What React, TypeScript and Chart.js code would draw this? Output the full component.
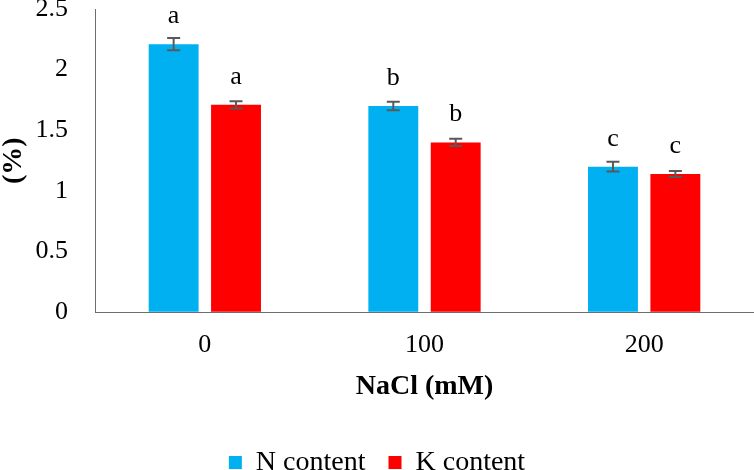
import React, { useEffect, useRef } from 'react';
import Chart from 'chart.js/auto';

const categories = ['0', '100', '200'];
const nContent = [2.21, 1.7, 1.2];
const kContent = [1.71, 1.4, 1.14];
const nError = [0.05, 0.035, 0.04];
const kError = [0.03, 0.03, 0.025];
const nLetters = ['a', 'b', 'c'];
const kLetters = ['a', 'b', 'c'];

const FONT = '"Liberation Serif", "Times New Roman", serif';

const errorBarPlugin = {
  id: 'errorBars',
  afterDatasetsDraw(chart: any) {
    const { ctx } = chart;
    const y = chart.scales.y;
    const errs = [nError, kError];
    const letters = [nLetters, kLetters];
    ctx.save();
    chart.data.datasets.forEach((ds: any, di: number) => {
      const meta = chart.getDatasetMeta(di);
      meta.data.forEach((bar: any, i: number) => {
        const v = ds.data[i];
        const e = errs[di][i];
        const yHi = y.getPixelForValue(v + e);
        const yLo = y.getPixelForValue(v - e);
        const x = bar.x;
        ctx.strokeStyle = '#595959';
        ctx.lineWidth = 2;
        ctx.beginPath();
        ctx.moveTo(x, yHi);
        ctx.lineTo(x, yLo);
        ctx.moveTo(x - 6.5, yHi);
        ctx.lineTo(x + 6.5, yHi);
        ctx.moveTo(x - 6.5, yLo);
        ctx.lineTo(x + 6.5, yLo);
        ctx.stroke();

        // significance letter above each bar
        ctx.fillStyle = '#000';
        ctx.font = `26px ${FONT}`;
        ctx.textAlign = 'center';
        ctx.textBaseline = 'middle';
        ctx.fillText(letters[di][i], x, y.getPixelForValue(v) - 28);
      });
    });
    ctx.restore();
  },
};

function App() {
  const chartRef = useRef<HTMLCanvasElement | null>(null);
  const chartInstance = useRef<Chart | null>(null);

  useEffect(() => {
    if (chartInstance.current) {
      chartInstance.current.destroy();
    }
    const myChartRef = chartRef.current?.getContext('2d');
    if (myChartRef) {
      chartInstance.current = new Chart(myChartRef, {
        type: 'bar',
        data: {
          labels: categories,
          datasets: [
            {
              label: 'N content',
              data: nContent,
              backgroundColor: '#00B0F0',
              categoryPercentage: 0.568,
              barPercentage: 0.8,
            },
            {
              label: 'K content',
              data: kContent,
              backgroundColor: '#FF0000',
              categoryPercentage: 0.568,
              barPercentage: 0.8,
            },
          ],
        },
        options: {
          animation: false,
          responsive: true,
          maintainAspectRatio: false,
          layout: { padding: 0 },
          plugins: {
            tooltip: { enabled: false },
            legend: {
              position: 'bottom',
              labels: {
                color: '#000',
                boxWidth: 13,
                boxHeight: 13,
                padding: 23,
                font: { family: FONT, size: 28 },
              },
            },
          },
          scales: {
            x: {
              grid: {
                display: true,
                drawOnChartArea: false,
                drawTicks: true,
                tickLength: 17,
                tickColor: 'transparent',
              },
              border: { display: true, color: '#6e6e6e', width: 1 },
              ticks: {
                color: '#000',
                padding: 0,
                font: { family: FONT, size: 26 },
              },
              title: {
                display: true,
                text: 'NaCl (mM)',
                color: '#000',
                font: { family: FONT, size: 28, weight: 'bold', lineHeight: 1 },
                padding: { top: 12, bottom: 25 },
              },
            },
            y: {
              min: 0,
              max: 2.5,
              grid: {
                display: true,
                drawOnChartArea: false,
                drawTicks: true,
                tickLength: 27,
                tickColor: 'transparent',
              },
              border: { display: true, color: '#6e6e6e', width: 1 },
              ticks: {
                stepSize: 0.5,
                color: '#000',
                padding: 0,
                font: { family: FONT, size: 26, lineHeight: 1 },
                callback: (v: any) => Number(v).toString(),
              },
              title: {
                display: true,
                text: '(%)',
                color: '#000',
                font: { family: FONT, size: 28, weight: 'bold', lineHeight: 1 },
                padding: { top: 0, bottom: 7.5 },
              },
            },
          },
        },
        plugins: [errorBarPlugin],
      });
    }
    return () => {
      if (chartInstance.current) {
        chartInstance.current.destroy();
        chartInstance.current = null;
      }
    };
  }, []);

  return (
    <div
      style={{
        position: 'absolute',
        left: 0,
        top: 0,
        width: '754px',
        height: '470px',
        overflow: 'hidden',
        background: '#fff',
      }}
    >
      <div style={{ position: 'relative', top: '-4.5px', width: '754px', height: '490.5px' }}>
        <canvas ref={chartRef} />
      </div>
    </div>
  );
}

export default App;
